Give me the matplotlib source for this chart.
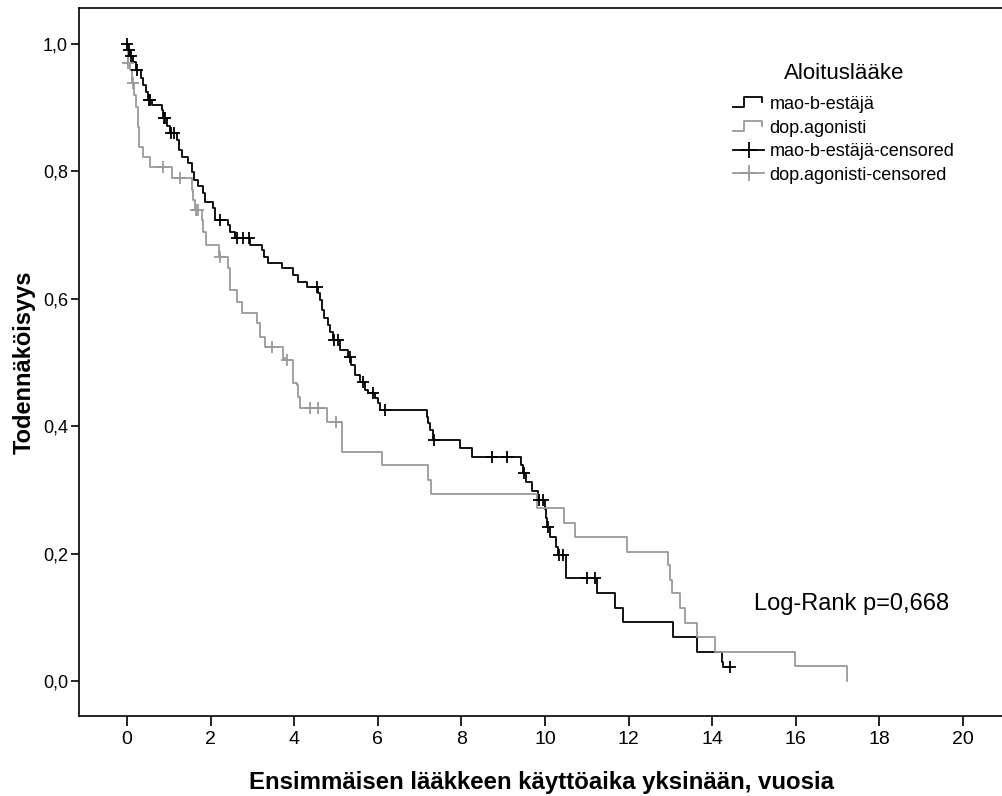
import numpy as np
import matplotlib
matplotlib.use('Agg')
import matplotlib.pyplot as plt
from matplotlib.lines import Line2D
from matplotlib.legend_handler import HandlerBase

plt.rcParams['font.family'] = ['Liberation Sans', 'DejaVu Sans']

# mao-b-estäjä: tapahtumien ajat ja elossaolo-osuus tapahtuman jälkeen
mao_t = [0.02, 0.07, 0.14, 0.22, 0.33, 0.38, 0.45, 0.50, 0.60, 0.84,
         0.86, 0.96, 1.03, 1.20, 1.24, 1.32, 1.46, 1.56, 1.60, 1.70,
         1.82, 1.87, 2.06, 2.11, 2.42, 2.46, 2.58, 2.94, 3.23, 3.28,
         3.37, 3.71, 3.97, 4.09, 4.31, 4.57, 4.62, 4.67, 4.71, 4.81,
         4.86, 4.93, 5.10, 5.29, 5.36, 5.45, 5.57, 5.69, 5.77, 5.93,
         6.00, 6.05, 7.18, 7.20, 7.25, 7.32, 7.97, 8.25, 9.43, 9.47,
         9.55, 9.69, 9.83, 10.00, 10.02, 10.05, 10.12, 10.26, 10.31, 10.50,
         11.24, 11.67, 11.87, 13.06, 13.64, 14.23, 14.26]
mao_s = [0.991, 0.981, 0.972, 0.959, 0.947, 0.936, 0.925, 0.912, 0.904, 0.896,
         0.884, 0.871, 0.860, 0.849, 0.834, 0.823, 0.813, 0.799, 0.786, 0.777,
         0.766, 0.752, 0.743, 0.724, 0.716, 0.705, 0.695, 0.684, 0.677, 0.666,
         0.656, 0.648, 0.637, 0.626, 0.619, 0.609, 0.598, 0.582, 0.570, 0.559,
         0.548, 0.535, 0.520, 0.509, 0.496, 0.480, 0.469, 0.457, 0.452, 0.444,
         0.436, 0.425, 0.414, 0.405, 0.394, 0.378, 0.366, 0.352, 0.339, 0.327,
         0.312, 0.298, 0.284, 0.270, 0.256, 0.242, 0.226, 0.210, 0.198, 0.162,
         0.138, 0.115, 0.093, 0.069, 0.046, 0.030, 0.022]
mao_cens = [0.01, 0.05, 0.10, 0.24, 0.52, 0.56, 0.88, 0.92, 1.05, 1.12,
            2.22, 2.62, 2.78, 2.92, 4.55, 4.95, 5.05, 5.33, 5.65, 5.88,
            6.17, 7.35, 8.73, 9.09, 9.50, 9.86, 9.95, 10.08, 10.33, 10.42,
            11.00, 11.20, 14.43]

# dop.agonisti
dop_t = [0.02, 0.07, 0.12, 0.17, 0.22, 0.26, 0.29, 0.38, 0.55, 1.08,
         1.56, 1.58, 1.63, 1.79, 1.82, 1.89, 2.20, 2.42, 2.46, 2.63,
         2.75, 3.11, 3.18, 3.30, 3.73, 3.78, 3.97, 4.07, 4.09, 4.14,
         4.78, 5.14, 6.10, 7.20, 7.27, 9.81, 10.45, 10.72, 11.96, 12.94,
         12.99, 13.04, 13.23, 13.35, 13.64, 14.07, 15.98, 17.22]
dop_s = [0.970, 0.959, 0.939, 0.920, 0.901, 0.870, 0.838, 0.823, 0.807, 0.790,
         0.771, 0.755, 0.739, 0.724, 0.705, 0.684, 0.666, 0.648, 0.614, 0.595,
         0.578, 0.562, 0.540, 0.524, 0.507, 0.504, 0.468, 0.465, 0.446, 0.429,
         0.407, 0.359, 0.339, 0.316, 0.294, 0.272, 0.248, 0.226, 0.203, 0.182,
         0.159, 0.138, 0.115, 0.091, 0.069, 0.046, 0.024, 0.0]
dop_cens = [0.03, 0.14, 0.86, 1.27, 1.66, 1.70, 2.23, 3.47, 3.83, 4.38,
            4.57, 5.00]

x_ticks = list(range(0, 21, 2))
y_ticks = [0.0, 0.2, 0.4, 0.6, 0.8, 1.0]
y_labels = ['0,0', '0,2', '0,4', '0,6', '0,8', '1,0']

BLACK = '#000000'
GRAY = '#9a9a9a'


def surv_at(times, surv, t):
    tt = np.concatenate([[0.0], times])
    ss = np.concatenate([[1.0], surv])
    idx = np.searchsorted(tt, t, side='right') - 1
    return ss[idx]


class StepHandler(HandlerBase):
    def create_artists(self, legend, orig_handle, xdescent, ydescent,
                       width, height, fontsize, trans):
        xs = np.array([0, 0.35, 0.35, 0.95, 0.95]) * width - xdescent
        ys = np.array([0.15, 0.15, 0.95, 0.95, 0.55]) * height - ydescent
        ln = Line2D(xs, ys, color=orig_handle.get_color(), lw=1.3)
        ln.set_transform(trans)
        return [ln]


fig = plt.figure(figsize=(10.03, 7.96), dpi=100)
ax = fig.add_axes([79 / 1003, 80 / 796, 926 / 1003, 708 / 796])

# käyrät
for times, surv, end, col in [(mao_t, mao_s, max(mao_cens), BLACK),
                              (dop_t, dop_s, None, GRAY)]:
    xx = [0.0] + list(times)
    yy = [1.0] + list(surv)
    if end is not None and end > xx[-1]:
        xx.append(end)
        yy.append(yy[-1])
    ax.step(xx, yy, where='post', color=col, lw=1.3, zorder=3)

h_mao, = ax.plot([], [], color=BLACK, lw=1.3)
h_dop, = ax.plot([], [], color=GRAY, lw=1.3)

# sensuroidut
c_mao, = ax.plot(mao_cens, surv_at(mao_t, mao_s, np.array(mao_cens)), ls='none',
                 marker='+', ms=8, mew=1.3, color=BLACK, zorder=4)
c_dop, = ax.plot(dop_cens, surv_at(dop_t, dop_s, np.array(dop_cens)), ls='none',
                 marker='+', ms=8, mew=1.3, color=GRAY, zorder=4)

hc_mao = Line2D([], [], color=BLACK, lw=1.3, marker='+', ms=12, mew=1.3)
hc_dop = Line2D([], [], color=GRAY, lw=1.3, marker='+', ms=12, mew=1.3)

ax.set_xlim((79 - 127) / 41.8, (1005 - 127) / 41.8)
ax.set_ylim(-(716 - 681) / 637, (681 - 8) / 637)

ax.set_xticks(x_ticks)
ax.set_xticklabels([str(v) for v in x_ticks], fontsize=14)
ax.set_yticks(y_ticks)
ax.set_yticklabels(y_labels, fontsize=13)
ax.tick_params(axis='x', direction='out', length=7.5, width=1.2, pad=3)
ax.tick_params(axis='y', direction='out', length=6, width=1.2, pad=2)

for sp in ['left', 'bottom', 'top']:
    ax.spines[sp].set_linewidth(1.2)
ax.spines['right'].set_visible(False)

ax.set_xlabel('Ensimmäisen lääkkeen käyttöaika yksinään, vuosia',
              fontsize=17.3, fontweight='bold', labelpad=17)
ax.set_ylabel('Todennäköisyys', fontsize=17, fontweight='bold', labelpad=5)

leg = ax.legend([h_mao, h_dop, hc_mao, hc_dop],
                ['mao-b-estäjä', 'dop.agonisti', 'mao-b-estäjä-censored',
                 'dop.agonisti-censored'],
                handler_map={h_mao: StepHandler(), h_dop: StepHandler()},
                title='Aloituslääke', title_fontsize=16, fontsize=13,
                loc='upper left', bbox_to_anchor=(726 / 1003, 1 - 56 / 796),
                bbox_transform=fig.transFigure, frameon=False,
                handlelength=1.7, handletextpad=0.3, labelspacing=0.36,
                borderaxespad=0, numpoints=1)
leg._legend_box.sep = 8.5

ax.text(754, 796 - 604, 'Log-Rank p=0,668', fontsize=17, ha='left',
        va='center', transform=None)

fig.savefig('out.png', dpi=100)
